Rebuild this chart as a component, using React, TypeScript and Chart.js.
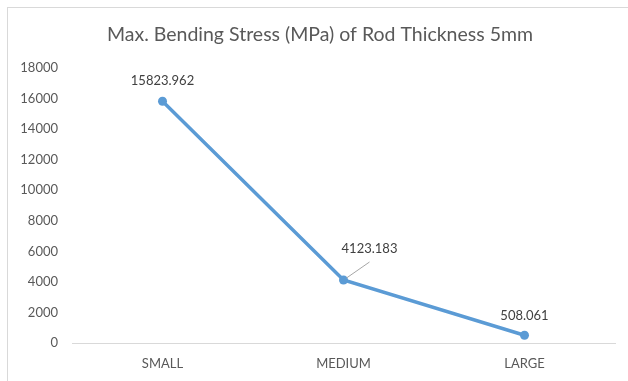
import { useEffect, useRef } from "react";
import { Chart, registerables } from "chart.js";

Chart.register(...registerables);

// Chart data
const chartTitle = "Max. Bending Stress (MPa) of Rod Thickness 5mm";
const categories = ["SMALL", "MEDIUM", "LARGE"];
const stressValues = [15823.962, 4123.183, 508.061];
const valueLabels = ["15823.962", "4123.183", "508.061"];
const yMin = 0;
const yMax = 18000;
const yStep = 2000;

// Placement of each value label relative to its point (pixels)
const labelOffsets = [
  { dx: 0, dy: -20, leader: false },
  { dx: 26, dy: -31, leader: true },
  { dx: 0, dy: -19, leader: false },
];

const FONT = "Lato, 'Open Sans', sans-serif";
const TEXT_GREY = "#595959";
const LINE_BLUE = "#5B9BD5";

const titlePlugin = {
  id: "chartTitleText",
  afterDraw(chart: any) {
    const ctx = chart.ctx;
    ctx.save();
    ctx.font = `19.5px ${FONT}`;
    ctx.fillStyle = TEXT_GREY;
    ctx.textAlign = "center";
    ctx.textBaseline = "middle";
    ctx.fillText(chartTitle, 320, 35);
    ctx.restore();
  },
};

const valueLabelPlugin = {
  id: "valueLabels",
  afterDatasetsDraw(chart: any) {
    const ctx = chart.ctx;
    const meta = chart.getDatasetMeta(0);
    ctx.save();
    ctx.font = `13px ${FONT}`;
    ctx.fillStyle = "#404040";
    ctx.textAlign = "center";
    ctx.textBaseline = "middle";
    meta.data.forEach((pt: any, i: number) => {
      const off = labelOffsets[i];
      const lx = pt.x + off.dx;
      const ly = pt.y + off.dy;
      if (off.leader) {
        ctx.beginPath();
        ctx.strokeStyle = "#a6a6a6";
        ctx.lineWidth = 1;
        ctx.moveTo(pt.x + 3, pt.y - 2);
        ctx.lineTo(lx, ly + 13);
        ctx.stroke();
      }
      ctx.fillText(valueLabels[i], lx, ly);
    });
    ctx.restore();
  },
};

export default function App() {
  const canvasRef = useRef<HTMLCanvasElement | null>(null);

  useEffect(() => {
    const canvas = canvasRef.current;
    if (!canvas) return;
    const chart = new Chart(canvas, {
      type: "line",
      data: {
        labels: categories,
        datasets: [
          {
            data: stressValues,
            borderColor: LINE_BLUE,
            backgroundColor: LINE_BLUE,
            borderWidth: 3.5,
            pointRadius: 4.5,
            pointBorderWidth: 0,
            pointBackgroundColor: LINE_BLUE,
            tension: 0,
          },
        ],
      },
      options: {
        responsive: false,
        animation: false,
        layout: { padding: { top: 68, left: 0, right: 13, bottom: 0 } },
        plugins: {
          legend: { display: false },
          title: { display: false },
          tooltip: { enabled: false },
        },
        scales: {
          x: {
            offset: true,
            grid: { display: false, drawTicks: false },
            border: { display: true, color: "#d9d9d9", width: 1 },
            ticks: {
              color: TEXT_GREY,
              font: { family: FONT, size: 13 },
              padding: 13,
            },
            afterFit(scale: any) {
              scale.height = 38;
            },
          },
          y: {
            min: yMin,
            max: yMax,
            grid: { display: false, drawTicks: false },
            border: { display: false },
            ticks: {
              stepSize: yStep,
              color: TEXT_GREY,
              font: { family: FONT, size: 13 },
              padding: 14,
              callback: (value: any) => String(value),
            },
            afterFit(scale: any) {
              scale.width = 72;
            },
          },
        },
      },
      plugins: [titlePlugin, valueLabelPlugin],
    });
    return () => chart.destroy();
  }, []);

  return (
    <div
      style={{
        position: "fixed",
        left: 0,
        top: 0,
        width: 628,
        height: 381,
        overflow: "hidden",
        background: "#ffffff",
      }}
    >
      <div
        style={{
          position: "absolute",
          left: 7,
          top: 7,
          width: 640,
          height: 400,
          border: "1px solid #d9d9d9",
        }}
      />
      <canvas
        ref={canvasRef}
        width={628}
        height={381}
        style={{ position: "absolute", left: 0, top: 0 }}
      />
    </div>
  );
}
